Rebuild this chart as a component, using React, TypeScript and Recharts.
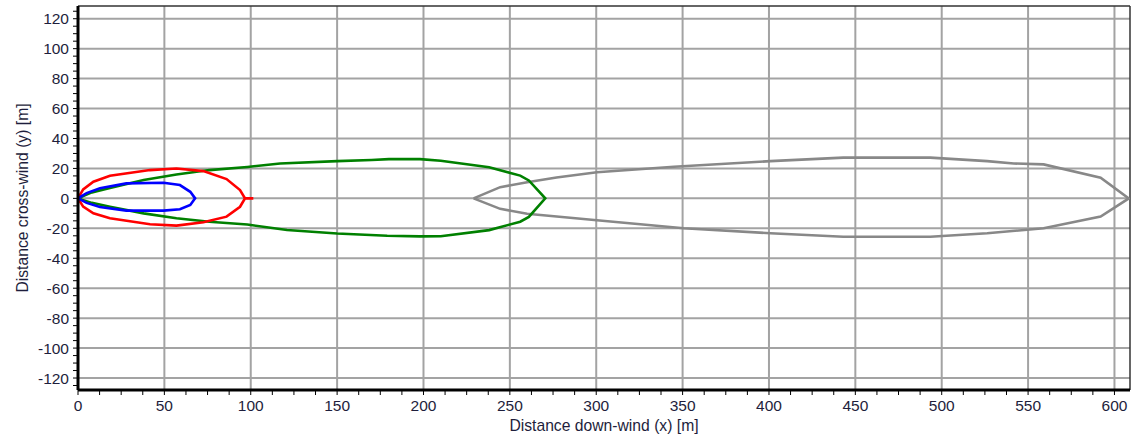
import { CartesianGrid, Label, Line, LineChart, ReferenceLine, XAxis, YAxis } from 'recharts';

// contour outlines, traced clockwise from the source at (0,0)
const blueZone = [
  { x: 0, y: 0 }, { x: 5, y: 3.5 }, { x: 12.7, y: 6.7 }, { x: 28, y: 10 }, { x: 49.5, y: 10.4 },
  { x: 59, y: 8.9 }, { x: 65, y: 4.4 }, { x: 67.8, y: 0 }, { x: 65, y: -4.4 }, { x: 59, y: -7.3 },
  { x: 49.5, y: -8.2 }, { x: 28, y: -8.2 }, { x: 12.7, y: -5.8 }, { x: 5, y: -3 }, { x: 0, y: 0 },
];

const redZone = [
  { x: 0, y: 0 }, { x: 3, y: 6 }, { x: 8.9, y: 11.1 }, { x: 18.5, y: 15.1 }, { x: 41.7, y: 18.9 },
  { x: 57, y: 20 }, { x: 72.6, y: 18.2 }, { x: 86, y: 12.9 }, { x: 93.8, y: 5.6 }, { x: 96.7, y: 0 },
  { x: 101.5, y: 0 }, { x: 96.7, y: 0 }, { x: 93.8, y: -5.6 }, { x: 86, y: -12.2 }, { x: 72.6, y: -16 },
  { x: 57, y: -18.2 }, { x: 41.7, y: -17.3 }, { x: 18.5, y: -13.3 }, { x: 8.9, y: -10 }, { x: 3, y: -5.5 },
  { x: 0, y: 0 },
];

const greenZone = [
  { x: 0, y: 0 }, { x: 8, y: 4 }, { x: 18.5, y: 7 }, { x: 38, y: 12.3 }, { x: 57, y: 16 },
  { x: 76, y: 18.9 }, { x: 98, y: 21 }, { x: 117, y: 23.3 }, { x: 150, y: 24.9 }, { x: 170, y: 25.6 },
  { x: 180, y: 26.2 }, { x: 198, y: 26.2 }, { x: 210, y: 25.1 }, { x: 238, y: 20.8 }, { x: 256, y: 15.2 },
  { x: 261, y: 12 }, { x: 270.5, y: 0 }, { x: 261, y: -12.4 }, { x: 256, y: -15.6 }, { x: 238, y: -21.2 },
  { x: 210, y: -25.3 }, { x: 198, y: -25.4 }, { x: 179, y: -25 }, { x: 150, y: -23.5 }, { x: 121, y: -21.1 },
  { x: 98, y: -17.5 }, { x: 76, y: -15.6 }, { x: 57, y: -13.3 }, { x: 38, y: -10 }, { x: 18.5, y: -5.6 },
  { x: 8, y: -3 }, { x: 0, y: 0 },
];

const grayZone = [
  { x: 229, y: 0 }, { x: 244.4, y: 7.5 }, { x: 260, y: 10.8 }, { x: 277, y: 14 }, { x: 300.4, y: 17.5 },
  { x: 345, y: 21.1 }, { x: 400.8, y: 24.9 }, { x: 443, y: 27.2 }, { x: 493.4, y: 27.2 }, { x: 526.3, y: 24.9 },
  { x: 541.7, y: 23.3 }, { x: 559, y: 22.7 }, { x: 592, y: 13.8 }, { x: 608.3, y: 0 }, { x: 592, y: -12.2 },
  { x: 559, y: -20 }, { x: 526.3, y: -23.3 }, { x: 493.4, y: -25.6 }, { x: 443, y: -25.6 }, { x: 400.8, y: -23.3 },
  { x: 350.6, y: -20 }, { x: 300.4, y: -14.6 }, { x: 260, y: -10.3 }, { x: 244.4, y: -7 }, { x: 229, y: 0 },
];

const xLabels = [0, 50, 100, 150, 200, 250, 300, 350, 400, 450, 500, 550, 600];
const yLabels = [-120, -100, -80, -60, -40, -20, 0, 20, 40, 60, 80, 100, 120];

const X_MAX = 609;
const Y_MIN = -128;
const Y_MAX = 128.5;

const xMinor: number[] = [];
for (let v = 0; v <= 600; v += 12.5) xMinor.push(v);
const yMinor: number[] = [];
for (let v = -125; v <= 125; v += 5) yMinor.push(v);

const FONT = '"Liberation Sans", Arial, sans-serif';
const TEXT = '#1e1e3c';

const XTick = (props: any) => {
  const { x, y, payload } = props;
  if (payload.value % 50 !== 0) return <g />;
  return (
    <text x={x} y={y} dy="0.71em" textAnchor="middle" fontFamily={FONT} fontSize={15.5} fill={TEXT}>
      {payload.value}
    </text>
  );
};

const YTick = (props: any) => {
  const { x, y, payload } = props;
  if (payload.value % 20 !== 0) return <g />;
  return (
    <text x={x} y={y} dy="0.36em" textAnchor="end" fontFamily={FONT} fontSize={15.5} fill={TEXT}>
      {payload.value}
    </text>
  );
};

const YTitle = (props: any) => {
  const { viewBox } = props;
  const cx = 22;
  const cy = viewBox.y + viewBox.height / 2;
  return (
    <text x={cx} y={cy} transform={`rotate(-90 ${cx} ${cy})`} textAnchor="middle" dy="0.36em"
      fontFamily={FONT} fontSize={15.7} fill={TEXT}>
      Distance cross-wind (y) [m]
    </text>
  );
};

const XTitle = (props: any) => {
  const { viewBox } = props;
  return (
    <text x={viewBox.x + viewBox.width / 2} y={431} textAnchor="middle"
      fontFamily={FONT} fontSize={15.7} fill={TEXT}>
      Distance down-wind (x) [m]
    </text>
  );
};

export default function App() {
  return (
    <div style={{ position: 'absolute', left: 0, top: 0, background: '#fff' }}>
      <LineChart width={1131} height={436} margin={{ top: 6, right: 1, left: 18, bottom: 0 }}>
        <CartesianGrid
          verticalValues={xLabels}
          horizontalValues={yLabels}
          stroke="#a3a3a3"
          strokeWidth={2}
        />
        <XAxis
          type="number"
          dataKey="x"
          domain={[0, X_MAX]}
          ticks={xMinor}
          interval={0}
          height={46}
          tickSize={5}
          tickMargin={5}
          tick={<XTick />}
          axisLine={{ stroke: '#000', strokeWidth: 3 }}
          tickLine={{ stroke: '#000', strokeWidth: 1 }}
          allowDataOverflow
        >
          <Label content={<XTitle />} />
        </XAxis>
        <YAxis
          type="number"
          dataKey="y"
          domain={[Y_MIN, Y_MAX]}
          ticks={yMinor}
          interval={0}
          width={60}
          tickSize={5}
          tickMargin={4}
          tick={<YTick />}
          axisLine={{ stroke: '#000', strokeWidth: 3 }}
          tickLine={{ stroke: '#000', strokeWidth: 1 }}
          allowDataOverflow
        >
          <Label content={<YTitle />} />
        </YAxis>
        <ReferenceLine x={X_MAX} stroke="#333" strokeWidth={1.5} />
        <ReferenceLine y={Y_MAX} stroke="#333" strokeWidth={1.5} />
        <Line data={grayZone} dataKey="y" stroke="#888888" strokeWidth={2.6} dot={false} isAnimationActive={false} />
        <Line data={greenZone} dataKey="y" stroke="#008000" strokeWidth={2.6} dot={false} isAnimationActive={false} />
        <Line data={redZone} dataKey="y" stroke="#ff0000" strokeWidth={2.6} dot={false} isAnimationActive={false} />
        <Line data={blueZone} dataKey="y" stroke="#0000ff" strokeWidth={2.6} dot={false} isAnimationActive={false} />
      </LineChart>
    </div>
  );
}
